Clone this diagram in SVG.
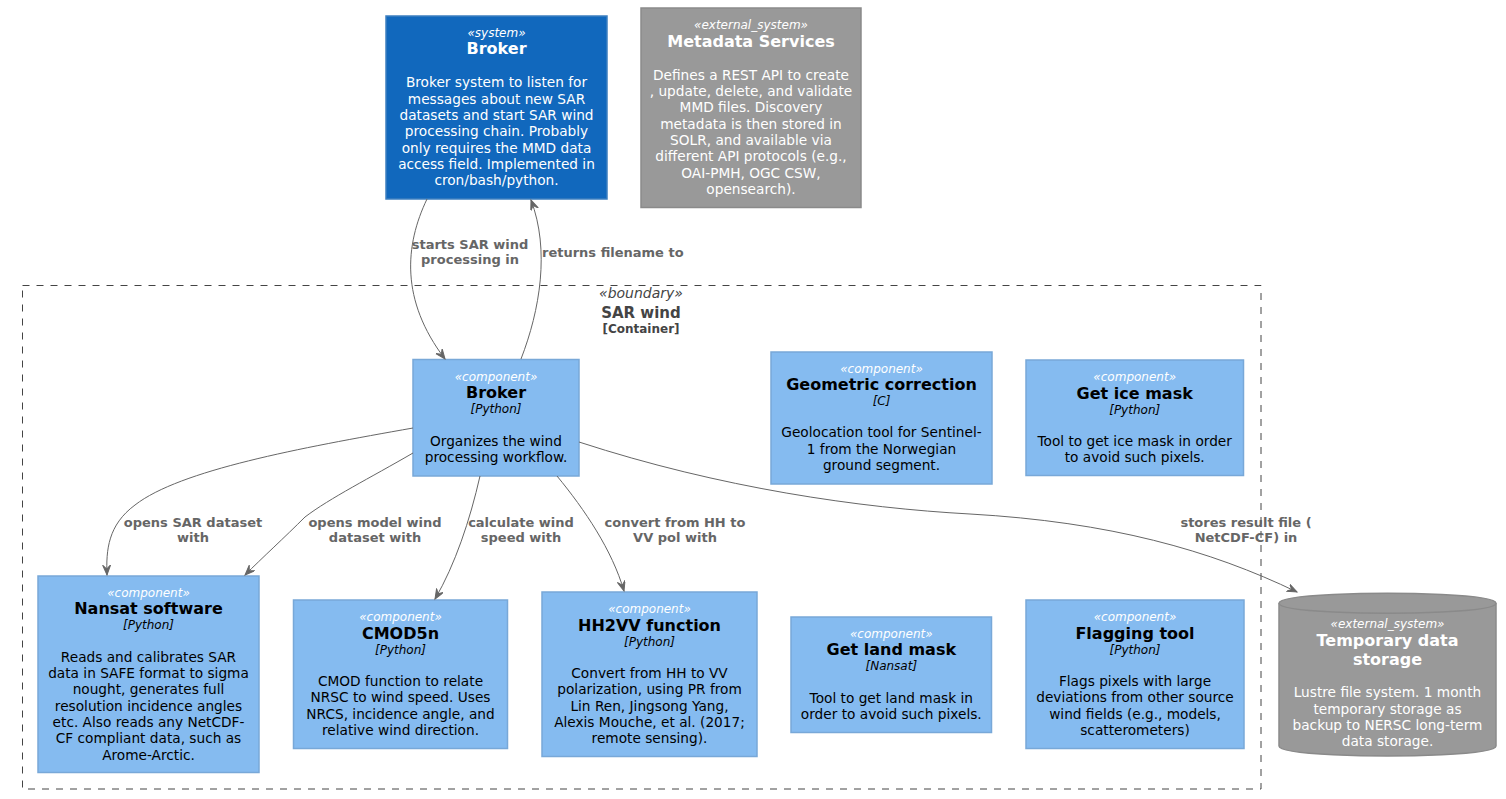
<svg xmlns="http://www.w3.org/2000/svg" width="1506" height="799" viewBox="0 0 1506 799">
<style>
text{font-family:"DejaVu Sans","Liberation Sans",sans-serif;text-anchor:middle}
.st{font-size:12px;font-style:italic;fill:#FFFFFF}
.tt{font-size:16px;font-weight:bold}
.tc{font-size:12px;font-style:italic}
.ds{font-size:13.7px}
.comp rect{fill:#85BBF0;stroke:#78A8D8;stroke-width:1.5}
.comp .tt,.comp .tc,.comp .ds{fill:#000000}
.sys rect{fill:#1168BD;stroke:#3C7FC0;stroke-width:1.5}
.sys text{fill:#FFFFFF}
.ext rect,.ext path{fill:#999999;stroke:#8A8A8A;stroke-width:1.5}
.ext text{fill:#FFFFFF}
.edge path{fill:none;stroke:#666666;stroke-width:1}
.lbl{font-size:13px;font-weight:bold;fill:#666666}
</style>
<defs>
<marker id="arr" markerWidth="12" markerHeight="10" refX="10" refY="4" orient="auto" markerUnits="userSpaceOnUse">
<path d="M0,0 L10,4 L0,8 L4,4 Z" fill="#666666" stroke="#666666" stroke-width="1"/>
</marker>
</defs>
<rect width="1506" height="799" fill="#FFFFFF"/>

<g id="boundary">
<rect x="22.5" y="285.5" width="1238.5" height="503.5" fill="none" stroke="#444444" stroke-width="1" stroke-dasharray="7,7"/>
<text x="641" y="298.3" style="font-size:14px;font-style:italic;fill:#444444">«boundary»</text>
<text x="641" y="317.7" style="font-size:15px;font-weight:bold;fill:#444444">SAR wind</text>
<text x="641" y="332.5" style="font-size:12px;font-weight:bold;fill:#444444">[Container]</text>
</g>

<g id="broker_system" class="sys">
<rect x="386" y="16" width="221" height="183"/>
<text class="st" x="496.5" y="36.7">«system»</text>
<text class="tt" x="496.5" y="54.3">Broker</text>
<text class="ds" x="496.5" y="87.3">Broker system to listen for</text>
<text class="ds" x="496.5" y="103.6">messages about new SAR</text>
<text class="ds" x="496.5" y="119.9">datasets and start SAR wind</text>
<text class="ds" x="496.5" y="136.2">processing chain. Probably</text>
<text class="ds" x="496.5" y="152.5">only requires the MMD data</text>
<text class="ds" x="496.5" y="168.8">access field. Implemented in</text>
<text class="ds" x="496.5" y="185.1">cron/bash/python.</text>
</g>

<g id="metadata_services" class="ext">
<rect x="641" y="8" width="220" height="199.5"/>
<text class="st" x="751" y="28.5">«external_system»</text>
<text class="tt" x="751" y="46.5">Metadata Services</text>
<text class="ds" x="751" y="79.8">Defines a REST API to create</text>
<text class="ds" x="751" y="96.1">, update, delete, and validate</text>
<text class="ds" x="751" y="112.4">MMD files. Discovery</text>
<text class="ds" x="751" y="128.7">metadata is then stored in</text>
<text class="ds" x="751" y="145">SOLR, and available via</text>
<text class="ds" x="751" y="161.3">different API protocols (e.g.,</text>
<text class="ds" x="751" y="177.6">OAI-PMH, OGC CSW,</text>
<text class="ds" x="751" y="193.9">opensearch).</text>
</g>

<g id="broker" class="comp">
<rect x="413" y="359.5" width="166" height="116.5"/>
<text class="st" x="496" y="380.5">«component»</text>
<text class="tt" x="496" y="398">Broker</text>
<text class="tc" x="496" y="413">[Python]</text>
<text class="ds" x="496" y="445.5">Organizes the wind</text>
<text class="ds" x="496" y="461.8">processing workflow.</text>
</g>

<g id="geometric_correction" class="comp">
<rect x="771" y="352" width="221" height="132"/>
<text class="st" x="881.5" y="372.7">«component»</text>
<text class="tt" x="881.5" y="390.3">Geometric correction</text>
<text class="tc" x="881.5" y="405.3">[C]</text>
<text class="ds" x="881.5" y="437.3">Geolocation tool for Sentinel-</text>
<text class="ds" x="881.5" y="453.6">1 from the Norwegian</text>
<text class="ds" x="881.5" y="469.9">ground segment.</text>
</g>

<g id="get_ice_mask" class="comp">
<rect x="1026" y="360" width="217.5" height="115.5"/>
<text class="st" x="1134.7" y="381">«component»</text>
<text class="tt" x="1134.7" y="398.5">Get ice mask</text>
<text class="tc" x="1134.7" y="413.5">[Python]</text>
<text class="ds" x="1134.7" y="446">Tool to get ice mask in order</text>
<text class="ds" x="1134.7" y="462.3">to avoid such pixels.</text>
</g>

<g id="nansat_software" class="comp">
<rect x="38" y="576" width="221" height="196.5"/>
<text class="st" x="148.5" y="596.7">«component»</text>
<text class="tt" x="148.5" y="614.3">Nansat software</text>
<text class="tc" x="148.5" y="629.3">[Python]</text>
<text class="ds" x="148.5" y="661.7">Reads and calibrates SAR</text>
<text class="ds" x="148.5" y="678">data in SAFE format to sigma</text>
<text class="ds" x="148.5" y="694.3">nought, generates full</text>
<text class="ds" x="148.5" y="710.6">resolution incidence angles</text>
<text class="ds" x="148.5" y="726.9">etc. Also reads any NetCDF-</text>
<text class="ds" x="148.5" y="743.2">CF compliant data, such as</text>
<text class="ds" x="148.5" y="759.5">Arome-Arctic.</text>
</g>

<g id="cmod5n" class="comp">
<rect x="293.5" y="600" width="214" height="148.5"/>
<text class="st" x="400.5" y="621">«component»</text>
<text class="tt" x="400.5" y="638.6">CMOD5n</text>
<text class="tc" x="400.5" y="653.6">[Python]</text>
<text class="ds" x="400.5" y="686">CMOD function to relate</text>
<text class="ds" x="400.5" y="702.3">NRSC to wind speed. Uses</text>
<text class="ds" x="400.5" y="718.6">NRCS, incidence angle, and</text>
<text class="ds" x="400.5" y="734.9">relative wind direction.</text>
</g>

<g id="hh2vv_function" class="comp">
<rect x="542" y="592" width="215" height="164.5"/>
<text class="st" x="649.5" y="613">«component»</text>
<text class="tt" x="649.5" y="630.6">HH2VV function</text>
<text class="tc" x="649.5" y="645.6">[Python]</text>
<text class="ds" x="649.5" y="678">Convert from HH to VV</text>
<text class="ds" x="649.5" y="694.3">polarization, using PR from</text>
<text class="ds" x="649.5" y="710.6">Lin Ren, Jingsong Yang,</text>
<text class="ds" x="649.5" y="726.9">Alexis Mouche, et al. (2017;</text>
<text class="ds" x="649.5" y="743.2">remote sensing).</text>
</g>

<g id="get_land_mask" class="comp">
<rect x="791" y="617" width="200.5" height="115.5"/>
<text class="st" x="891.3" y="637.7">«component»</text>
<text class="tt" x="891.3" y="655.3">Get land mask</text>
<text class="tc" x="891.3" y="670.3">[Nansat]</text>
<text class="ds" x="891.3" y="702.7">Tool to get land mask in</text>
<text class="ds" x="891.3" y="719">order to avoid such pixels.</text>
</g>

<g id="flagging_tool" class="comp">
<rect x="1026" y="600" width="218" height="148.5"/>
<text class="st" x="1135" y="621">«component»</text>
<text class="tt" x="1135" y="638.6">Flagging tool</text>
<text class="tc" x="1135" y="653.6">[Python]</text>
<text class="ds" x="1135" y="686">Flags pixels with large</text>
<text class="ds" x="1135" y="702.3">deviations from other source</text>
<text class="ds" x="1135" y="718.6">wind fields (e.g., models,</text>
<text class="ds" x="1135" y="734.9">scatterometers)</text>
</g>

<g id="temporary_data_storage" class="ext">
<path d="M1279,603.3 C1279,593.3 1387.5,593.3 1387.5,593.3 C1387.5,593.3 1496,593.3 1496,603.3 L1496,746 C1496,756 1387.5,756 1387.5,756 C1387.5,756 1279,756 1279,746 Z"/>
<path d="M1279,603.3 C1279,613.3 1387.5,613.3 1387.5,613.3 C1387.5,613.3 1496,613.3 1496,603.3" style="fill:none"/>
<text class="st" x="1387.5" y="628.3">«external_system»</text>
<text class="tt" x="1387.5" y="646">Temporary data</text>
<text class="tt" x="1387.5" y="664.7">storage</text>
<text class="ds" x="1387.5" y="697.3">Lustre file system. 1 month</text>
<text class="ds" x="1387.5" y="713.6">temporary storage as</text>
<text class="ds" x="1387.5" y="729.9">backup to NERSC long-term</text>
<text class="ds" x="1387.5" y="746.2">data storage.</text>
</g>

<g id="connectors" class="edge">
<path d="M427,199 C405,245 400,300 445,359" marker-end="url(#arr)"/>
<text class="lbl" x="470" y="249.3">starts SAR wind</text>
<text class="lbl" x="470" y="264.3">processing in</text>
<path d="M521,359 C540,310 550,250 531,200" marker-end="url(#arr)"/>
<text class="lbl" x="542" y="256.7" style="text-anchor:start">returns filename to</text>
<path d="M413,428 C300,448 180,470 135,505 C108,525 106,550 107,575" marker-end="url(#arr)"/>
<text class="lbl" x="193" y="526.7">opens SAR dataset</text>
<text class="lbl" x="193" y="541.7">with</text>
<path d="M413,453 C370,478 330,498 305,517 C285,537 262,558 245,575" marker-end="url(#arr)"/>
<text class="lbl" x="375" y="526.7">opens model wind</text>
<text class="lbl" x="375" y="541.7">dataset with</text>
<path d="M480,476 C470,520 455,565 435,599" marker-end="url(#arr)"/>
<text class="lbl" x="521" y="526.7">calculate wind</text>
<text class="lbl" x="521" y="541.7">speed with</text>
<path d="M557,476 C585,510 612,550 624,591" marker-end="url(#arr)"/>
<text class="lbl" x="675" y="526.7">convert from HH to</text>
<text class="lbl" x="675" y="541.7">VV pol with</text>
<path d="M579,442 C720,488 860,508 970,514 C1110,522 1210,550 1297,592" marker-end="url(#arr)"/>
<text class="lbl" x="1246" y="526.7">stores result file (</text>
<text class="lbl" x="1246" y="541.7">NetCDF-CF) in</text>
</g>
</svg>
